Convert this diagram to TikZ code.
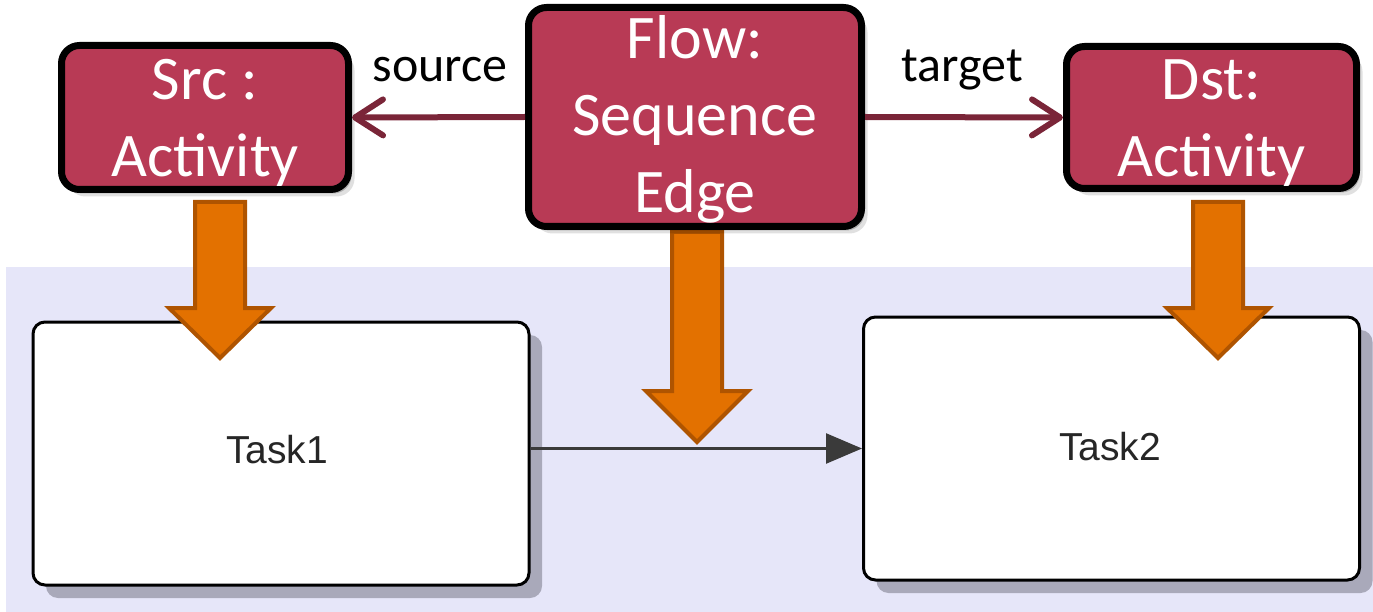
\documentclass[tikz,border=0pt]{standalone}
\usepackage{fontspec}
\setmainfont{Carlito}
\newfontfamily\taskfont{Liberation Sans}
\usetikzlibrary{arrows.meta,shadows}
\definecolor{boxred}{HTML}{B83A55}
\definecolor{relcol}{HTML}{7A2538}
\definecolor{orfill}{HTML}{E37100}
\definecolor{ordraw}{HTML}{AF5400}
\definecolor{panel}{HTML}{E6E6F9}
\definecolor{taskshadow}{HTML}{A9A9BA}
\definecolor{edgecol}{HTML}{3A3A3A}

% downward block arrow: x centre, top, start of head, tip
\newcommand\blockdown[4]{%
  \draw[orangearrow] (#1-25,#2) -- (#1+25,#2) -- (#1+25,#3) -- (#1+51,#3)
    -- (#1,#4) -- (#1-51,#3) -- (#1-25,#3) -- cycle;}

\begin{document}
\begin{tikzpicture}[x=1pt,y=-1pt,
  redbox/.style={draw=black, line width=7pt, fill=boxred, rounded corners=18pt,
    inner sep=0pt,
    drop shadow={shadow xshift=6pt,shadow yshift=-7pt,opacity=.12,fill=black},
    drop shadow={shadow xshift=3pt,shadow yshift=-4pt,opacity=.22,fill=black}},
  redtext/.style={text=white, font=\fontsize{62}{77}\selectfont, align=center,
    anchor=base, inner sep=0pt},
  rellabel/.style={text=black, font=\fontsize{50}{60}\selectfont, anchor=base,
    inner sep=0pt},
  relarrow/.style={draw=relcol, line width=6pt,
    -{Straight Barb[length=28pt,width=36pt,line cap=round,line join=round]}},
  taskbox/.style={draw=black, line width=3pt, fill=white, rounded corners=12pt,
    inner sep=0pt, minimum width=496pt, minimum height=263pt,
    drop shadow={shadow xshift=13pt,shadow yshift=-13pt,opacity=1,fill=taskshadow}},
  tasktext/.style={text=black!85, font=\taskfont\fontsize{39}{44}\selectfont,
    anchor=base, inner sep=0pt},
  seqflow/.style={draw=edgecol, line width=2.5pt,
    -{Triangle[length=36pt,width=30pt]}},
  orangearrow/.style={fill=orfill, draw=ordraw, line width=4pt, line join=miter}]

\useasboundingbox (0,0) rectangle (1373,612);

% process diagram panel
\fill[panel] (6,267) rectangle (1373,612);

% BPMN tasks and their sequence flow
\node[taskbox] (task1) at (281,453.5) {};
\node[taskbox] (task2) at (1111.5,448.5) {};
\node[tasktext] (t1label) at (277,463) {Task1};
\node[tasktext] (t2label) at (1110,460) {Task2};
\draw[seqflow] (task1.east |- task2.west) -- (task2.west);

% mapping arrows
\blockdown{220}{202}{308}{358}
\blockdown{697}{232}{391}{442}
\blockdown{1218}{202}{308}{358}

% metamodel instances
\node[redbox, minimum width=287pt, minimum height=144pt] (src) at (205,117.5) {};
\node[redbox, minimum width=333pt, minimum height=219pt] (flow) at (695,117) {};
\node[redbox, minimum width=290pt, minimum height=142pt] (dst) at (1211.5,117.5) {};

% multi-line texts: the base anchor sits on the last line
\node[redtext] (srctext) at (205,177) {Src :\\Activity};
\node[redtext] (flowtext) at (695,213) {Flow:\\Sequence\\Edge};
\node[redtext] (dsttext) at (1211.5,177) {Dst:\\Activity};

% source / target references
\draw[relarrow] (flow.west) -- (src.east);
\draw[relarrow] (flow.east) -- (dst.west);
\node[rellabel] (srclabel) at (440,82) {source};
\node[rellabel] (tgtlabel) at (962,82) {target};

\end{tikzpicture}
\end{document}
